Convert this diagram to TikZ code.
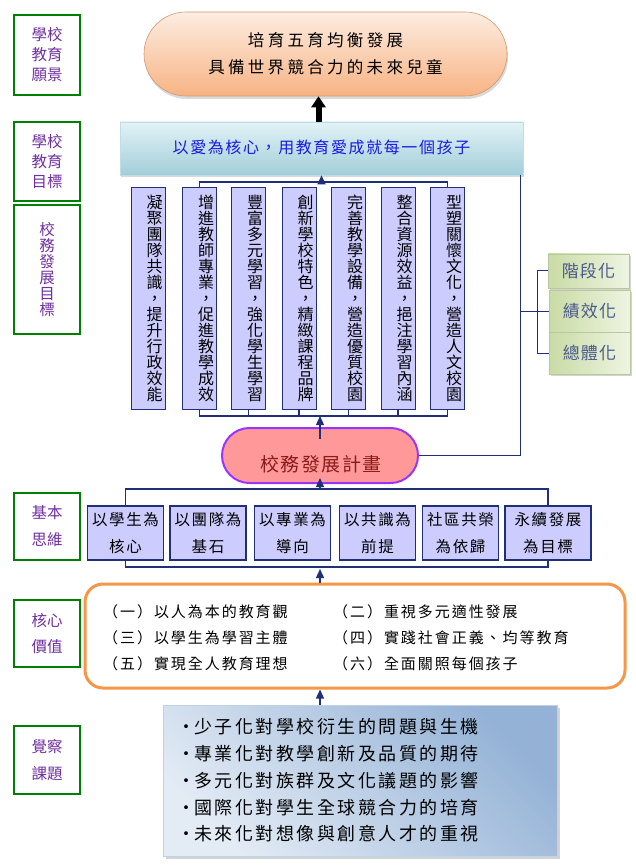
\documentclass[tikz,border=0pt]{standalone}
\usepackage{fontspec}
\setmainfont{Noto Sans CJK TC}
\usetikzlibrary{positioning,arrows.meta,shadows}

\definecolor{labgreen}{HTML}{008000}
\definecolor{labpurple}{HTML}{7030A0}
\definecolor{lineblue}{HTML}{1F2F7A}
\definecolor{boxlilac}{HTML}{CCCCFF}
\definecolor{visiontop}{HTML}{FDEDE2}
\definecolor{visionbot}{HTML}{F7B383}
\definecolor{goaltop}{HTML}{E2F2F6}
\definecolor{goalbot}{HTML}{A2CEDA}
\definecolor{goaltext}{HTML}{1A1AE6}
\definecolor{planfill}{HTML}{FF9999}
\definecolor{planline}{HTML}{9933FF}
\definecolor{plantext}{HTML}{8B1A1A}
\definecolor{coreline}{HTML}{F79646}
\definecolor{stageleft}{HTML}{C9DBA5}
\definecolor{stageright}{HTML}{EEF4E2}
\definecolor{stagetext}{HTML}{4A5A8C}
\definecolor{issuelight}{HTML}{E3EBF5}
\definecolor{issuedark}{HTML}{94B2D6}

\tikzset{
  labelbox/.style={draw=labgreen, line width=1.1pt, text=labpurple, minimum width=66pt,
    inner sep=0pt, align=center, font=\fontsize{15.5}{20}\selectfont},
  aimbox/.style={draw=lineblue, fill=boxlilac, line width=1pt, minimum width=34pt,
    minimum height=221pt, inner sep=0pt, text width=29pt, align=right,
    font=\fontsize{16}{16}\selectfont},
  thinkbox/.style={draw=lineblue, fill=boxlilac, line width=1.2pt, minimum width=76pt,
    minimum height=54pt, inner sep=0pt, align=center,
    font=\fontsize{15.5}{27}\selectfont\addfontfeature{LetterSpace=10}},
  stagebox/.style={left color=stageleft, right color=stageright, draw=stageleft!80!gray,
    line width=0.4pt, minimum width=81pt, text=stagetext,
    font=\fontsize{17}{20}\selectfont\addfontfeature{LetterSpace=6},
    drop shadow={shadow xshift=2pt, shadow yshift=-2pt, opacity=0.35}},
  coreitem/.style={anchor=west, inner sep=0pt,
    font=\fontsize{15}{18}\selectfont\addfontfeature{LetterSpace=13}},
  conn/.style={draw=lineblue, line width=1.3pt},
  uparrow/.style={conn, -{Triangle[length=9pt,width=8pt]}},
}

\begin{document}
\begin{tikzpicture}[x=1pt,y=-1pt]
\useasboundingbox (0,0) rectangle (636,866);

% Rotulos
\node [labelbox, minimum height=80pt] (lab1) at (47,55) {學校\\教育\\願景};
\node [labelbox, minimum height=79pt] (lab2) at (47,161.5) {學校\\教育\\目標};
\node [labelbox, minimum height=129pt, font=\fontsize{15.5}{16}\selectfont] (lab3) at (47,269.5) {校\\務\\發\\展\\目\\標};
\node [labelbox, minimum height=67pt, font=\fontsize{15.5}{27}\selectfont] (lab4) at (47,526.5) {基本\\思維};
\node [labelbox, minimum height=67pt, font=\fontsize{15.5}{26}\selectfont] (lab5) at (47,633.5) {核心\\價值};
\node [labelbox, minimum height=68pt, font=\fontsize{15.5}{27}\selectfont] (lab6) at (47,760) {覺察\\課題};

% Vision y objetivo
\node [top color=visiontop, bottom color=visionbot, draw=visionbot!85!black, line width=0.6pt,
  rounded corners=42pt, minimum width=363pt, minimum height=84pt, align=center,
  drop shadow={shadow xshift=1pt, shadow yshift=-3pt, opacity=0.3},
  font=\fontsize{16.5}{27}\selectfont\addfontfeature{LetterSpace=20}] (vision) at (325.5,54)
  {培育五育均衡發展\\具備世界競合力的未來兒童};
\node [top color=goaltop, bottom color=goalbot, draw=goalbot!70!white, line width=0.6pt,
  minimum width=403pt, minimum height=53pt, text=goaltext,
  drop shadow={shadow xshift=1pt, shadow yshift=-2pt, opacity=0.3},
  font=\fontsize{16}{18}\selectfont\addfontfeature{LetterSpace=10}] (goal) at (321.5,148.5)
  {\raisebox{3pt}{以愛為核心，用教育愛成就每一個孩子}};
\draw [line width=6pt, -{Triangle[length=11pt,width=14pt]}] ([xshift=-3pt]goal.north) -- ([xshift=-3pt]goal.north |- vision.south);

% Metas
\node [aimbox] (aim1) at (148,298.5) {凝\\聚\\團\\隊\\共\\識\\，\\提\\升\\行\\政\\效\\能};
\node [aimbox] (aim2) at (199.5,298.5) {增\\進\\教\\師\\專\\業\\，\\促\\進\\教\\學\\成\\效};
\node [aimbox] (aim3) at (248.5,298.5) {豐\\富\\多\\元\\學\\習\\，\\強\\化\\學\\生\\學\\習};
\node [aimbox] (aim4) at (299,298.5) {創\\新\\學\\校\\特\\色\\，\\精\\緻\\課\\程\\品\\牌};
\node [aimbox] (aim5) at (348.5,298.5) {完\\善\\教\\學\\設\\備\\，\\營\\造\\優\\質\\校\\園};
\node [aimbox] (aim6) at (398,298.5) {整\\合\\資\\源\\效\\益\\，\\挹\\注\\學\\習\\內\\涵};
\node [aimbox] (aim7) at (447.5,298.5) {型\\塑\\關\\懷\\文\\化\\，\\營\\造\\人\\文\\校\\園};

\coordinate (topbar) at (0,182);
\coordinate (botbar) at (0,416);
\draw [conn] (aim2.north) |- (aim7.north |- topbar) -- (aim7.north);
\draw [uparrow] (goal.south |- topbar) -- (goal.south);
\draw [conn] (aim2.south) |- (aim7.south |- botbar) -- (aim7.south);
\foreach \i in {3,...,6}
  \draw [conn] (aim\i.south) -- (aim\i.south |- botbar);

% Plan
\node [fill=planfill, draw=planline, line width=2pt, rounded corners=27.5pt,
  minimum width=196pt, minimum height=55pt] (plan) at (320,455.5) {};
\node [text=plantext, font=\fontsize{19}{20}\selectfont\addfontfeature{LetterSpace=8}] (plantext) at (321,464) {校務發展計畫};
\draw [uparrow] ([yshift=-12pt]plan.north) -- (plan.north |- botbar);

% Etapas a la derecha
\node [stagebox, minimum height=34pt] (stage1) at (588.5,271) {階段化};
\node [stagebox, minimum height=42pt] (stage2) at (589.5,311) {績效化};
\node [stagebox, minimum height=42pt] (stage3) at (589.5,353) {總體化};
\coordinate (spine) at (537,0);
\draw [conn, line width=1pt] (plan.east) -| ([xshift=-3pt]goal.south east);
\draw [conn, line width=1pt] (stage1.west) -- (stage1.west -| spine) -- (stage3.west -| spine) -- (stage3.west);
\draw [conn, line width=1pt] ([xshift=-3pt]goal.south east |- stage2.west) -- (stage2.west);

% Pensamiento basico
\node [thinkbox] (think1) at (125.5,533) {以學生為\\核心};
\node [thinkbox] (think2) at (208,533) {以團隊為\\基石};
\node [thinkbox] (think3) at (292.5,533) {以專業為\\導向};
\node [thinkbox] (think4) at (377.5,533) {以共識為\\前提};
\node [thinkbox] (think5) at (460.5,533) {社區共榮\\為依歸};
\node [thinkbox, minimum width=86pt] (think6) at (548,533) {永續發展\\為目標};

\coordinate (thinktop) at (0,489);
\coordinate (thinkbot) at (0,567);
\draw [conn] (think1.north) |- (think6.north |- thinktop) -- (think6.north);
\draw [uparrow] (plan.south |- thinktop) -- ([yshift=6pt]plan.south);
\draw [conn] (think1.south) |- (think6.south |- thinkbot) -- (think6.south);

% Valores centrales
\node [draw=coreline, line width=3pt, rounded corners=18pt, minimum width=540pt,
  minimum height=104pt] (core) at (355,636) {};
\node [coreitem] (cv1) at (103,612) {（一）以人為本的教育觀};
\node [coreitem] (cv2) at (333,612) {（二）重視多元適性發展};
\node [coreitem] (cv3) at (103,638) {（三）以學生為學習主體};
\node [coreitem] (cv4) at (333,638) {（四）實踐社會正義、均等教育};
\node [coreitem] (cv5) at (103,664) {（五）實現全人教育理想};
\node [coreitem] (cv6) at (333,664) {（六）全面關照每個孩子};
\draw [uparrow] (plan.south |- core.north) -- ([yshift=-2pt]plan.south |- thinkbot);

% Temas
\node [top color=issuedark, bottom color=issuelight, shading angle=-45,
  draw=issuedark!60!white, line width=0.6pt, minimum width=394pt, minimum height=151pt,
  text width=366pt, inner xsep=14pt, align=left,
  drop shadow={shadow xshift=3pt, shadow yshift=-3pt, opacity=0.35},
  font=\fontsize{18}{26.7}\selectfont] (issues) at (360,780.5)
  {\makebox[17pt][l]{·}{\addfontfeature{LetterSpace=14}少子化對學校衍生的問題與生機}\\
   \makebox[17pt][l]{·}{\addfontfeature{LetterSpace=14}專業化對教學創新及品質的期待}\\
   \makebox[17pt][l]{·}{\addfontfeature{LetterSpace=14}多元化對族群及文化議題的影響}\\
   \makebox[17pt][l]{·}{\addfontfeature{LetterSpace=14}國際化對學生全球競合力的培育}\\
   \makebox[17pt][l]{·}{\addfontfeature{LetterSpace=14}未來化對想像與創意人才的重視}};
\draw [uparrow] (plan.south |- issues.north) -- (plan.south |- core.south);
\end{tikzpicture}
\end{document}
